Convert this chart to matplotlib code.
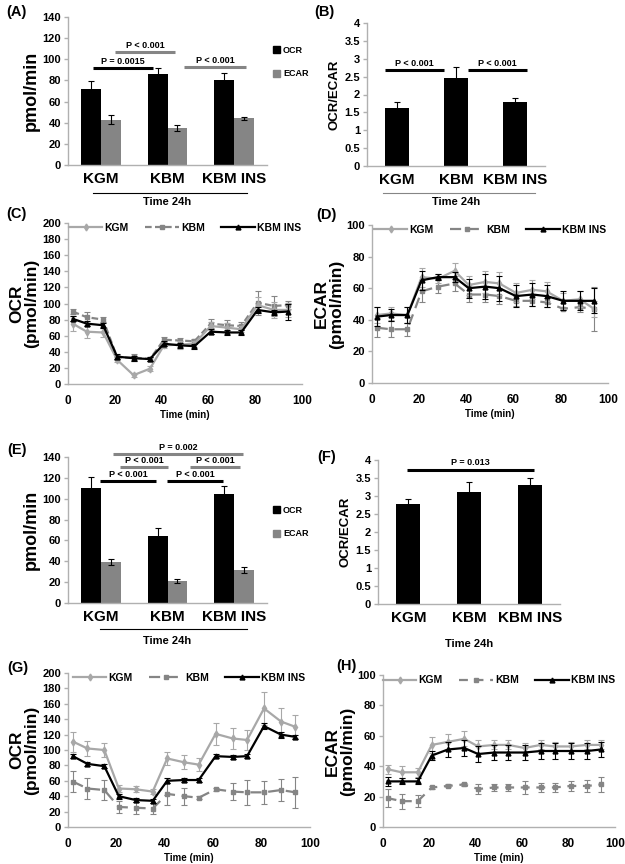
import numpy as np
import matplotlib.pyplot as plt
from matplotlib.patches import Patch
from matplotlib.lines import Line2D
from matplotlib.transforms import blended_transform_factory

plt.rcParams['font.family'] = ['Liberation Sans Narrow', 'Liberation Sans', 'DejaVu Sans']
plt.rcParams['font.weight'] = 'bold'
plt.rcParams['axes.labelweight'] = 'bold'

# ---- datos ----
grupos = ['KGM', 'KBM', 'KBM INS']
tiempo = [2, 8, 15, 21, 28, 35, 41, 48, 54, 61, 68, 74, 81, 88, 94]

# (A) 24 h
ocrA = [72, 86, 80]
ocrA_err = [7, 6, 7]
ecarA = [43, 35, 44]
ecarA_err = [4, 3, 1.5]
# (B)
ratioB = [1.63, 2.45, 1.78]
ratioB_err = [0.17, 0.32, 0.12]

# (C) OCR curso temporal
ocrC_kgm = [75, 65, 64, 30, 11, 19, 48, 49, 50, 72, 70, 68, 98, 92, 92]
ocrC_kgm_err = [9, 8, 6, 3, 2, 3, 3, 5, 4, 5, 6, 4, 10, 10, 9]
ocrC_kbm = [90, 83, 80, 33, 33, 31, 55, 54, 53, 75, 73, 72, 101, 97, 98]
ocrC_kbm_err = [3, 7, 3, 3, 4, 3, 3, 3, 3, 6, 7, 5, 15, 12, 5]
ocrC_ins = [81, 75, 73, 34, 32, 31, 50, 48, 47, 65, 64, 64, 92, 89, 90]
ocrC_ins_err = [3, 3, 3, 3, 3, 3, 3, 3, 3, 3, 3, 3, 4, 3, 10]

# (D) ECAR curso temporal
ecarD_kgm = [43, 44, 43, 67, 66, 71, 62, 64, 63, 57, 59, 58, 52, 53, 47]
ecarD_kgm_err = [5, 4, 5, 6, 3, 5, 6, 7, 7, 6, 6, 6, 5, 5, 5]
ecarD_kbm = [35, 34, 34, 58, 61, 63, 56, 56, 55, 52, 52, 51, 47, 48, 47]
ecarD_kbm_err = [6, 5, 4, 7, 4, 5, 5, 5, 5, 3, 3, 3, 1, 3, 14]
ecarD_ins = [42, 43, 43, 65, 67, 67, 60, 61, 60, 55, 56, 55, 52, 52, 52]
ecarD_ins_err = [6, 4, 5, 6, 2, 3, 6, 8, 8, 7, 7, 7, 6, 6, 8]

# (E) 24 h
ocrE = [110, 64, 105]
ocrE_err = [11, 8, 7]
ecarE = [39, 21, 32]
ecarE_err = [3, 2, 3]
# (F)
ratioF = [2.78, 3.1, 3.3]
ratioF_err = [0.15, 0.3, 0.2]

# (G) OCR curso temporal
ocrG_kgm = [111, 102, 100, 50, 49, 46, 89, 84, 81, 121, 115, 113, 154, 137, 130]
ocrG_kgm_err = [13, 10, 9, 4, 4, 3, 9, 9, 8, 14, 14, 13, 21, 18, 15]
ocrG_kbm = [59, 50, 48, 26, 25, 24, 43, 40, 38, 49, 46, 45, 45, 48, 45]
ocrG_kbm_err = [14, 13, 13, 8, 8, 7, 14, 11, 2, 2, 11, 16, 15, 14, 20]
ocrG_ins = [92, 82, 79, 40, 35, 34, 60, 61, 61, 92, 91, 92, 131, 120, 117]
ocrG_ins_err = [3, 3, 3, 3, 3, 3, 3, 3, 3, 3, 3, 3, 4, 4, 3]

# (H) ECAR curso temporal
ecarH_kgm = [38, 36, 36, 54, 56, 58, 53, 54, 54, 52, 54, 53, 53, 54, 54]
ecarH_kgm_err = [3, 4, 3, 5, 5, 5, 4, 3, 3, 3, 3, 3, 3, 3, 3]
ecarH_kbm = [19, 17, 17, 26, 27, 28, 25, 26, 26, 26, 26, 26, 27, 27, 28]
ecarH_kbm_err = [6, 5, 4, 1, 1, 1, 3, 2, 2, 4, 3, 3, 3, 4, 5]
ecarH_ins = [30, 30, 30, 47, 51, 52, 48, 49, 49, 49, 50, 50, 50, 50, 51]
ecarH_ins_err = [3, 2, 2, 3, 5, 5, 5, 5, 5, 5, 5, 5, 5, 5, 5]

GRIS_CLARO = '#a8a8a8'
GRIS = '#858585'
EJE = '#b0b0b0'

W, H = 625, 864
fig = plt.figure(figsize=(W / 100, H / 100), dpi=100)


def caja(izq, der, arriba, abajo):
    return fig.add_axes([izq / W, 1 - abajo / H, (der - izq) / W, (abajo - arriba) / H])


def estilo(ax):
    for s in ['top', 'right']:
        ax.spines[s].set_visible(False)
    for s in ['left', 'bottom']:
        ax.spines[s].set_color(EJE)
        ax.spines[s].set_linewidth(1)
    ax.tick_params(axis='both', colors=EJE, labelcolor='black', labelsize=8,
                   length=3, width=1, pad=2)


def signif(ax, x0, x1, y, texto, color, dy):
    ax.plot([x0, x1], [y, y], color=color, lw=2.2, solid_capstyle='butt', clip_on=False)
    ax.text((x0 + x1) / 2, y + dy, texto, ha='center', va='bottom', fontsize=6.5,
            fontweight='bold', clip_on=False)


def tiempo24(ax, y_txt, linea=None, color_linea='black'):
    tr = blended_transform_factory(ax.transData, ax.transAxes)
    if linea is not None:
        ax.plot([linea[0], linea[1]], [linea[2], linea[2]], color=color_linea, lw=0.8,
                transform=tr, clip_on=False)
    ax.text(1.0, y_txt, 'Time 24h', transform=tr, ha='center', va='center', fontsize=8)


def barras_doble(ax, ocr, ocr_e, ecar, ecar_e, ymax):
    x = np.arange(len(grupos))
    w = 0.3
    ax.bar(x - w / 2, ocr, w, color='black', yerr=ocr_e, capsize=2.5,
           error_kw=dict(ecolor='black', elinewidth=0.8, capthick=0.8))
    ax.bar(x + w / 2, ecar, w, color=GRIS, yerr=ecar_e, capsize=2.5,
           error_kw=dict(ecolor='black', elinewidth=0.8, capthick=0.8))
    ax.set_xlim(-0.5, 2.5)
    ax.set_ylim(0, ymax)
    ax.set_yticks(np.arange(0, ymax + 1, 20))
    ax.set_xticks(x)
    ax.set_xticklabels(grupos, fontsize=11)
    ax.tick_params(axis='x', length=0, pad=5)
    ax.set_ylabel('pmol/min', fontsize=13, labelpad=2)
    ax.legend(handles=[Patch(color='black', label='OCR'), Patch(color=GRIS, label='ECAR')],
              loc='upper left', bbox_to_anchor=(0.99, 0.86), frameon=False, fontsize=6.5,
              handlelength=0.8, handleheight=0.8, handletextpad=0.3, labelspacing=1.6)


def barras_ratio(ax, val, err):
    x = np.arange(len(grupos))
    ax.bar(x, val, 0.4, color='black', yerr=err, capsize=2.5,
           error_kw=dict(ecolor='black', elinewidth=0.8, capthick=0.8))
    ax.set_xlim(-0.5, 2.5)
    ax.set_ylim(0, 4)
    ax.set_yticks(np.arange(0, 4.01, 0.5))
    ax.set_yticklabels(['0', '0.5', '1', '1.5', '2', '2.5', '3', '3.5', '4'])
    ax.set_xticks(x)
    ax.set_xticklabels(grupos, fontsize=11)
    ax.tick_params(axis='x', length=0, pad=5)
    ax.set_ylabel('OCR/ECAR', fontsize=9.5, labelpad=3)


def curso(ax, kgm, kgm_e, kbm, kbm_e, ins, ins_e, ymax, paso, ylab, kbm_dash):
    ax.errorbar(tiempo, kgm, yerr=kgm_e, color=GRIS_CLARO, lw=1.6, marker='d', ms=3.5,
                capsize=2, elinewidth=0.8, capthick=0.8, label='KGM', zorder=3)
    ax.errorbar(tiempo, kbm, yerr=kbm_e, color=GRIS, lw=1.6, ls=kbm_dash, marker='s', ms=3.5,
                capsize=2, elinewidth=0.8, capthick=0.8, label='KBM', zorder=2)
    ax.errorbar(tiempo, ins, yerr=ins_e, color='black', lw=1.6, marker='^', ms=3.5,
                capsize=2, elinewidth=0.8, capthick=0.8, label='KBM INS', zorder=4)
    ax.set_xlim(0, 100)
    ax.set_ylim(0, ymax)
    ax.set_xticks(np.arange(0, 101, 20))
    ax.set_yticks(np.arange(0, ymax + 1, paso))
    ax.tick_params(axis='x', length=0, labelsize=8.5, pad=8)
    ax.set_xlabel('Time (min)', fontsize=7, labelpad=2)
    ax.set_ylabel(ylab, fontsize=12.5, labelpad=2, linespacing=1.0)
    hs = [Line2D([], [], color=GRIS_CLARO, lw=1.6, marker='d', ms=3.5),
          Line2D([], [], color=GRIS, lw=1.6, ls=kbm_dash, marker='s', ms=3.5),
          Line2D([], [], color='black', lw=1.6, marker='^', ms=3.5)]
    ax.legend(hs, ['KGM', 'KBM', 'KBM INS'], loc='upper center', bbox_to_anchor=(0.5, 1.06),
              ncol=3, frameon=False, fontsize=7.5, handlelength=3.2, columnspacing=1.6,
              handletextpad=0.2)


# (A)
axA = caja(68, 267, 17, 165)
estilo(axA)
barras_doble(axA, ocrA, ocrA_err, ecarA, ecarA_err, 140)
signif(axA, -0.12, 0.78, 91.6, 'P = 0.0015', 'black', 2)
signif(axA, 0.21, 1.11, 106.5, 'P < 0.001', GRIS, 2)
signif(axA, 1.25, 2.19, 92.3, 'P < 0.001', GRIS, 2)
tiempo24(axA, -0.25, (-0.12, 2.2, -0.19), 'black')

# (B)
axB = caja(367, 545, 23, 166)
estilo(axB)
barras_ratio(axB, ratioB, ratioB_err)
signif(axB, -0.2, 0.8, 2.68, 'P < 0.001', 'black', 0.06)
signif(axB, 1.2, 2.2, 2.68, 'P < 0.001', 'black', 0.06)
tiempo24(axB, -0.25, (-0.23, 2.33, -0.19), GRIS)

# (C)
axC = caja(68, 302, 223, 384)
estilo(axC)
curso(axC, ocrC_kgm, ocrC_kgm_err, ocrC_kbm, ocrC_kbm_err, ocrC_ins, ocrC_ins_err,
      200, 20, 'OCR\n(pmol/min)', (0, (3, 1.5)))

# (D)
axD = caja(372, 608, 225, 383)
estilo(axD)
curso(axD, ecarD_kgm, ecarD_kgm_err, ecarD_kbm, ecarD_kbm_err, ecarD_ins, ecarD_ins_err,
      100, 20, 'ECAR\n(pmol/min)', (0, (5, 3)))

# (E)
axE = caja(68, 267, 457, 603)
estilo(axE)
barras_doble(axE, ocrE, ocrE_err, ecarE, ecarE_err, 140)
signif(axE, 0.18, 2.14, 143, 'P = 0.002', GRIS, 2)
signif(axE, 0.28, 1.01, 130.4, 'P < 0.001', GRIS, 1.5)
signif(axE, 1.34, 2.09, 130.4, 'P < 0.001', GRIS, 1.5)
signif(axE, -0.02, 0.83, 117, 'P < 0.001', 'black', 1.5)
signif(axE, 0.99, 1.84, 117, 'P < 0.001', 'black', 1.5)
axE.get_legend().set_bbox_to_anchor((0.99, 0.72))
tiempo24(axE, -0.26, (-0.02, 2.2, -0.18), 'black')

# (F)
axF = caja(378, 560, 460, 604)
estilo(axF)
barras_ratio(axF, ratioF, ratioF_err)
signif(axF, -0.03, 2.07, 3.72, 'P = 0.013', 'black', 0.08)
tiempo24(axF, -0.28)

# (G)
axG = caja(68, 310, 673, 827)
estilo(axG)
curso(axG, ocrG_kgm, ocrG_kgm_err, ocrG_kbm, ocrG_kbm_err, ocrG_ins, ocrG_ins_err,
      200, 20, 'OCR\n(pmol/min)', (0, (5, 3)))

# (H)
axH = caja(383, 615, 675, 827)
estilo(axH)
curso(axH, ecarH_kgm, ecarH_kgm_err, ecarH_kbm, ecarH_kbm_err, ecarH_ins, ecarH_ins_err,
      100, 20, 'ECAR\n(pmol/min)', (0, (4, 3)))

# etiquetas de panel
for letra, (px, py) in {'(A)': (6, 12), '(B)': (314, 12), '(C)': (6, 214), '(D)': (316, 215),
                        '(E)': (7, 450), '(F)': (317, 457), '(G)': (7, 668),
                        '(H)': (336, 666)}.items():
    fig.text(px / W, 1 - py / H, letra, fontsize=10.5, fontweight='bold',
             family='Liberation Sans', va='center', ha='left')

fig.savefig('out.png', dpi=100)
